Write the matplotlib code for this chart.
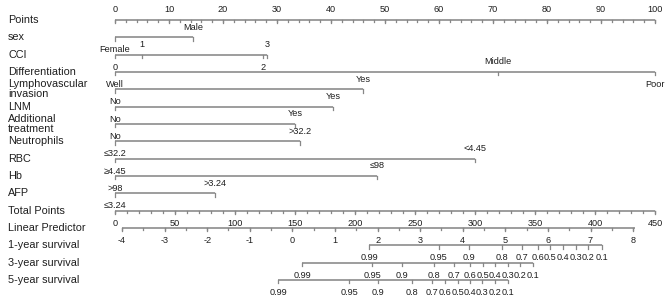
import matplotlib
matplotlib.use('Agg')
import matplotlib.pyplot as plt
import numpy as np

plt.rcParams['font.family'] = ['Liberation Sans', 'DejaVu Sans']

# ---------------- data ----------------
points_labels = list(range(0, 101, 10))
variables = ['sex', 'CCI', 'Differentiation', 'Lymphovascular\ninvasion', 'LNM',
             'Additional\ntreatment', 'Neutrophils', 'RBC', 'Hb', 'AFP']
levels = [['Female', 'Male'],
          ['0', '1', '2', '3'],
          ['Well', 'Middle', 'Poor'],
          ['No', 'Yes'],
          ['No', 'Yes'],
          ['No', 'Yes'],
          ['≤32.2', '>32.2'],
          ['≥4.45', '<4.45'],
          ['>98', '≤98'],
          ['≤3.24', '>3.24']]
level_points = [[0, 14.4],
                [0, 5.0, 27.4, 28.1],
                [0, 70.9, 100],
                [0, 45.9],
                [0, 40.4],
                [0, 33.3],
                [0, 34.3],
                [0, 66.7],
                [0, 48.5],
                [0, 18.5]]
total_labels = list(range(0, 451, 50))
total_max = 450
lp_labels = list(range(-4, 9))
lp_intercept_tp = 147.8   # total points at linear predictor 0
lp_slope_tp = 35.5        # total points per unit of linear predictor
surv_names = ['1-year survival', '3-year survival', '5-year survival']
surv_labels = ['0.99', '0.95', '0.9', '0.8', '0.7', '0.6', '0.5', '0.4', '0.3', '0.2', '0.1']
surv1_tp = [211.7, 270.0, 295.0, 322.5, 339.2, 352.5, 362.5, 373.3, 384.2, 394.2, 405.8]
surv3_tp = [155.8, 214.2, 239.2, 265.8, 282.5, 295.8, 306.7, 316.7, 327.5, 337.5, 348.3]
surv5_tp = [135.8, 195.0, 219.2, 247.5, 264.2, 275.0, 285.8, 295.8, 305.8, 316.7, 327.5]

# ---------------- drawing ----------------
LINE = '#878787'
TXT = '#1e1e1e'
LAB_FS = 7.8
VAL_FS = 6.6

fig = plt.figure(figsize=(6.7, 3.04), dpi=100)
ax = fig.add_axes([0, 0, 1, 1])
ax.set_xlim(-21.3, 102.78)
ax.set_ylim(16.385, -1.154)
ax.axis('off')

ABOVE = 0.58
BELOW = 0.72
TMAJ = 0.19
TMIN = 0.12
LABEL_X = -19.8


def tp2pts(tp):
    return np.asarray(tp, dtype=float) * 100.0 / total_max


def hline(row, x0, x1):
    ax.plot([x0, x1], [row, row], color=LINE, lw=1.15, solid_capstyle='butt')


def ticks(row, xs, length):
    for x in np.atleast_1d(xs):
        ax.plot([x, x], [row, row + length], color=LINE, lw=0.9)


def row_label(row, text):
    ax.text(LABEL_X, row, text, ha='left', va='center', fontsize=LAB_FS,
            color=TXT, linespacing=1.0)


row = 0
# Points axis
row_label(row, 'Points')
hline(row, 0, 100)
ticks(row, np.arange(0, 101, 2), TMIN)
ticks(row, points_labels, TMAJ)
for v in points_labels:
    ax.text(v, row - ABOVE, str(v), ha='center', va='center', fontsize=VAL_FS, color=TXT)

# variable rows
for name, labs, pts in zip(variables, levels, level_points):
    row += 1
    row_label(row, name)
    hline(row, min(pts), max(pts))
    ticks(row, pts, TMAJ)
    for k, (lab, p) in enumerate(zip(labs, pts)):
        dy = BELOW if k % 2 == 0 else -ABOVE
        ax.text(p, row + dy, lab, ha='center', va='center', fontsize=VAL_FS, color=TXT)

# Total points
row += 1
row_label(row, 'Total Points')
hline(row, 0, 100)
ticks(row, tp2pts(np.arange(0, total_max + 1, 10)), TMIN)
ticks(row, tp2pts(total_labels), TMAJ)
for v in total_labels:
    ax.text(tp2pts(v), row + BELOW, str(v), ha='center', va='center', fontsize=VAL_FS, color=TXT)

# Linear predictor
row += 1
row_label(row, 'Linear Predictor')
lp_pos = lambda lp: tp2pts(lp_intercept_tp + lp_slope_tp * np.asarray(lp, dtype=float))
hline(row, lp_pos(lp_labels[0]), lp_pos(lp_labels[-1] + 0.05))
ticks(row, lp_pos(np.arange(lp_labels[0], lp_labels[-1] + 0.01, 0.5)), TMIN)
ticks(row, lp_pos(lp_labels), TMAJ)
for v in lp_labels:
    ax.text(lp_pos(v), row + BELOW, str(v), ha='center', va='center', fontsize=VAL_FS, color=TXT)

# survival axes
for name, tps in zip(surv_names, [surv1_tp, surv3_tp, surv5_tp]):
    row += 1
    row_label(row, name)
    xs = tp2pts(tps)
    hline(row, xs.min(), xs.max())
    ticks(row, xs, TMAJ)
    for lab, x in zip(surv_labels, xs):
        ax.text(x, row + BELOW, lab, ha='center', va='center', fontsize=VAL_FS, color=TXT)

fig.savefig('out.png', dpi=100, facecolor='white')
